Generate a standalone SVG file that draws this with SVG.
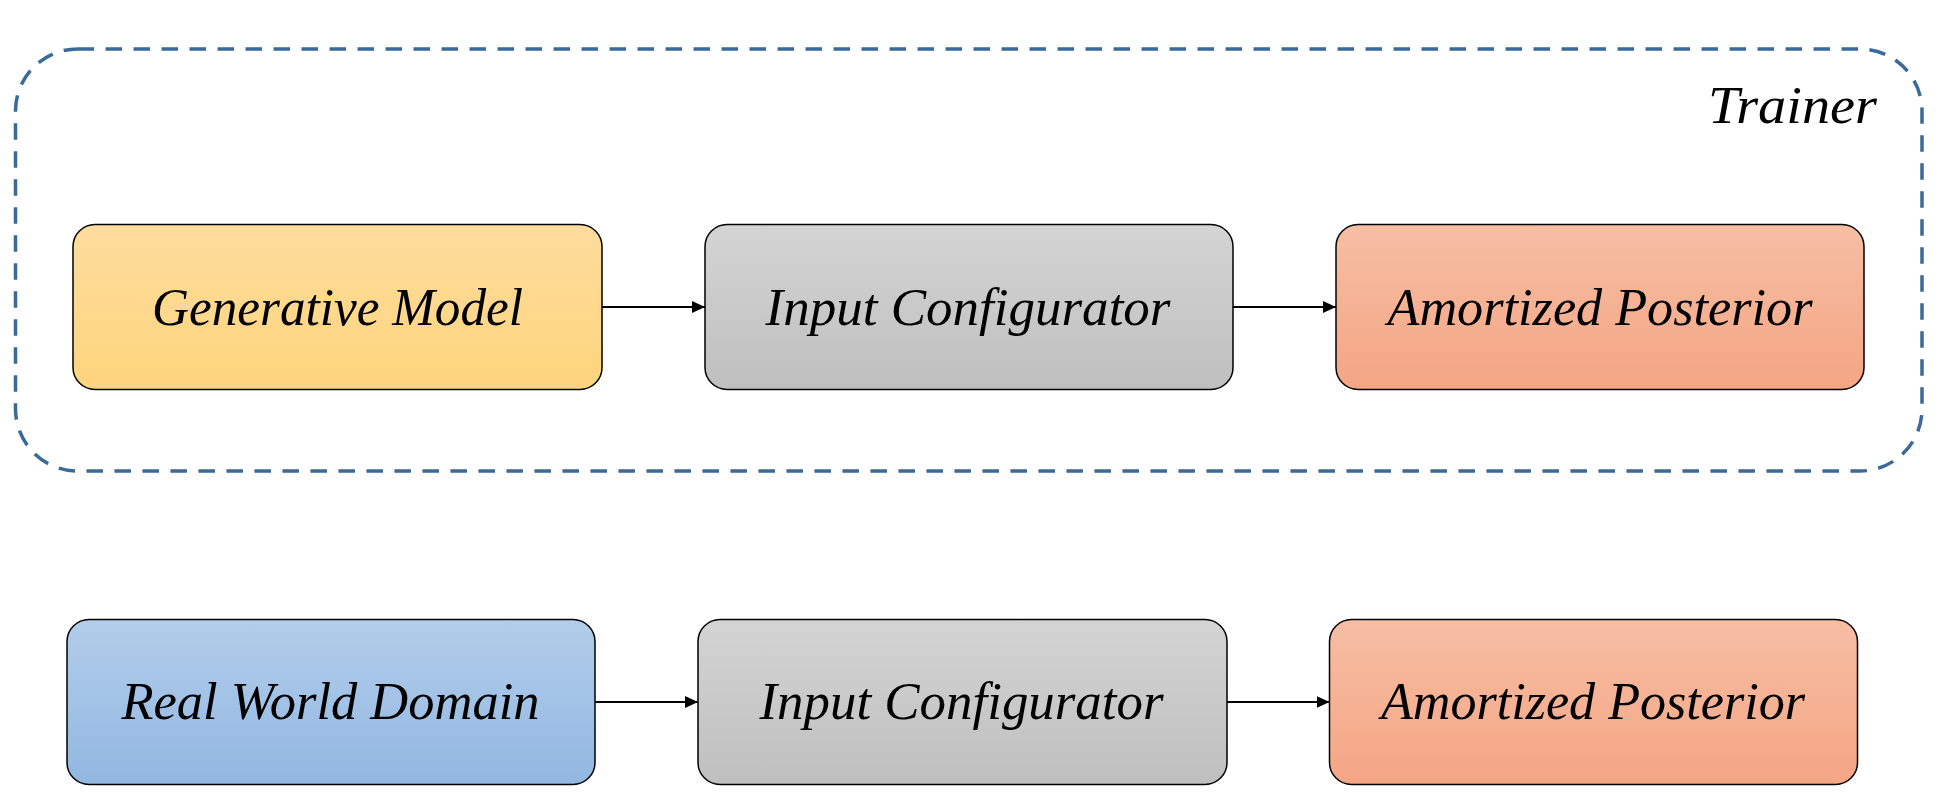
<svg xmlns="http://www.w3.org/2000/svg" width="1944" height="805" viewBox="0 0 1944 805">
<style>
.node rect{stroke:#000;stroke-width:1.5}
.lbl{font-family:"Liberation Serif","Times New Roman",serif;font-style:italic;font-size:53px;fill:#000;text-anchor:middle}
.conn line{stroke:#000;stroke-width:1.8;marker-end:url(#arr)}
</style>
<defs>
<linearGradient id="gY" x1="0" y1="0" x2="0" y2="1"><stop offset="0" stop-color="#FDDC9D"/><stop offset="1" stop-color="#FED47C"/></linearGradient>
<linearGradient id="gG" x1="0" y1="0" x2="0" y2="1"><stop offset="0" stop-color="#D4D4D4"/><stop offset="1" stop-color="#BFBFBF"/></linearGradient>
<linearGradient id="gO" x1="0" y1="0" x2="0" y2="1"><stop offset="0" stop-color="#F6BEA4"/><stop offset="1" stop-color="#F5A584"/></linearGradient>
<linearGradient id="gB" x1="0" y1="0" x2="0" y2="1"><stop offset="0" stop-color="#B2CDEA"/><stop offset="1" stop-color="#92B7E2"/></linearGradient>
<marker id="arr" markerUnits="userSpaceOnUse" markerWidth="13" markerHeight="12" refX="13" refY="6" orient="auto"><path d="M0,0 L13,6 L0,12 Z" fill="#000"/></marker>
</defs>
<rect id="trainer" x="15.5" y="49" width="1906.5" height="422" rx="62" ry="62" fill="none" stroke="#3A6A9A" stroke-width="3.5" stroke-dasharray="16.5 11.5"/>
<text class="lbl" x="1792.5" y="123" font-size="56" textLength="169" lengthAdjust="spacingAndGlyphs">Trainer</text>
<g id="generative-model" class="node"><rect x="73" y="224.5" width="529" height="165" rx="22" fill="url(#gY)"/><text class="lbl" x="337.5" y="325" textLength="371" lengthAdjust="spacingAndGlyphs">Generative Model</text></g>
<g id="input-configurator-1" class="node"><rect x="705" y="224.5" width="528" height="165" rx="22" fill="url(#gG)"/><text class="lbl" x="968" y="325" textLength="405" lengthAdjust="spacingAndGlyphs">Input Configurator</text></g>
<g id="amortized-posterior-1" class="node"><rect x="1336" y="224.5" width="528" height="165" rx="22" fill="url(#gO)"/><text class="lbl" x="1600" y="325" textLength="425" lengthAdjust="spacingAndGlyphs">Amortized Posterior</text></g>
<g id="real-world-domain" class="node"><rect x="67" y="619.5" width="528" height="165" rx="22" fill="url(#gB)"/><text class="lbl" x="330.5" y="719" textLength="418" lengthAdjust="spacingAndGlyphs">Real World Domain</text></g>
<g id="input-configurator-2" class="node"><rect x="698" y="619.5" width="529" height="165" rx="22" fill="url(#gG)"/><text class="lbl" x="961.5" y="719" textLength="404" lengthAdjust="spacingAndGlyphs">Input Configurator</text></g>
<g id="amortized-posterior-2" class="node"><rect x="1329.5" y="619.5" width="528" height="165" rx="22" fill="url(#gO)"/><text class="lbl" x="1593" y="719" textLength="424" lengthAdjust="spacingAndGlyphs">Amortized Posterior</text></g>
<g id="connectors" class="conn">
<line x1="602" y1="307" x2="705" y2="307"/>
<line x1="1233" y1="307" x2="1336" y2="307"/>
<line x1="595" y1="702" x2="698" y2="702"/>
<line x1="1227" y1="702" x2="1329.5" y2="702"/>
</g>
</svg>
